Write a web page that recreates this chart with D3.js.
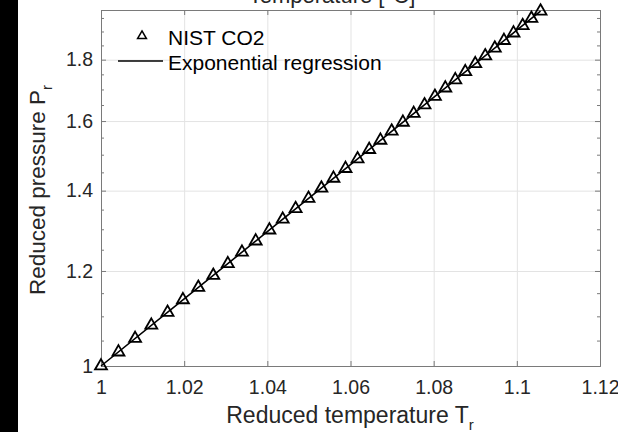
<!DOCTYPE html>
<html>
<head>
<meta charset="utf-8">
<script src="https://cdn.jsdelivr.net/npm/d3@7"></script>
<style>
  body { margin: 0; background: #fff; }
  text { font-family: "Liberation Sans", Arial, Helvetica, sans-serif; }
</style>
</head>
<body>
<div id="chart"></div>
<script>
// NIST CO2 points (reduced temperature / reduced pressure)
const nistTr = [1.0000, 1.0042, 1.0082, 1.0121, 1.0160, 1.0197, 1.0234, 1.0270, 1.0305, 1.0339,
  1.0372, 1.0405, 1.0437, 1.0468, 1.0499, 1.0530, 1.0559, 1.0588, 1.0617, 1.0645,
  1.0672, 1.0699, 1.0726, 1.0752, 1.0778, 1.0803, 1.0828, 1.0852, 1.0876, 1.0900,
  1.0924, 1.0947, 1.0969, 1.0992, 1.1014, 1.1035, 1.1057];
const nistPr = [1.0000, 1.0271, 1.0542, 1.0813, 1.1084, 1.1355, 1.1626, 1.1897, 1.2168, 1.2439,
  1.2710, 1.2981, 1.3252, 1.3523, 1.3794, 1.4065, 1.4336, 1.4607, 1.4878, 1.5149,
  1.5420, 1.5691, 1.5962, 1.6233, 1.6504, 1.6775, 1.7046, 1.7317, 1.7588, 1.7859,
  1.8130, 1.8401, 1.8672, 1.8943, 1.9214, 1.9485, 1.9756];

// exponential regression curve
const fitTr = [1.00, 1.02, 1.04, 1.06, 1.08, 1.10, 1.1057];
const fitPr = [1.0000, 1.1375, 1.2940, 1.4719, 1.6743, 1.9046, 1.9758];

const xTicks = [1, 1.02, 1.04, 1.06, 1.08, 1.1, 1.12];
const xTickLabels = ['1', '1.02', '1.04', '1.06', '1.08', '1.1', '1.12'];
const yTicks = [1, 1.2, 1.4, 1.6, 1.8];
const yTickLabels = ['1', '1.2', '1.4', '1.6', '1.8'];
const yMinorTicks = [1.05, 1.1, 1.15, 1.25, 1.3, 1.35, 1.45, 1.5, 1.55, 1.65, 1.7, 1.75, 1.85, 1.9, 1.95];

const W = 618, H = 432;
const margin = { top: 10, right: 18, bottom: 66, left: 101 };
const width = W - margin.left - margin.right;
const height = H - margin.top - margin.bottom;

const svg = d3.select('#chart').append('svg')
  .attr('width', W)
  .attr('height', H);

// black strip on the left edge
svg.append('rect').attr('x', 0).attr('y', 0).attr('width', 18).attr('height', H).attr('fill', '#000');

const g = svg.append('g').attr('transform', `translate(${margin.left},${margin.top})`);

const x = d3.scaleLinear().domain([1, 1.12]).range([0, width]);
const y = d3.scaleLog().domain([1, 1.98]).range([height, 0]);

const axisColor = '#7a7a7a';
const textColor = '#262626';

// grid
g.append('g')
  .attr('transform', `translate(0,${height})`)
  .call(d3.axisBottom(x).tickValues(xTicks).tickSize(-height).tickFormat(''))
  .call(s => s.select('.domain').remove())
  .selectAll('line').attr('stroke', '#e3e3e3');
g.append('g')
  .call(d3.axisLeft(y).tickValues(yTicks).tickSize(-width).tickFormat(''))
  .call(s => s.select('.domain').remove())
  .selectAll('line').attr('stroke', '#e3e3e3');

// minor y ticks, left and right
g.append('g')
  .call(d3.axisLeft(y).tickValues(yMinorTicks).tickSize(-3).tickFormat(''))
  .call(s => s.select('.domain').remove())
  .selectAll('line').attr('stroke', axisColor);
g.append('g')
  .attr('transform', `translate(${width},0)`)
  .call(d3.axisRight(y).tickValues(yMinorTicks).tickSize(-3).tickFormat(''))
  .call(s => s.select('.domain').remove())
  .selectAll('line').attr('stroke', axisColor);

// X axis (bottom)
const xAxis = g.append('g')
  .attr('transform', `translate(0,${height})`)
  .call(d3.axisBottom(x).tickValues(xTicks).tickSize(-5).tickPadding(14)
    .tickFormat((d, i) => xTickLabels[i]));

// top axis
const topAxis = g.append('g')
  .call(d3.axisTop(x).tickValues(xTicks).tickSize(-5).tickFormat(''));

// Y axis (left)
const yAxis = g.append('g')
  .call(d3.axisLeft(y).tickValues(yTicks).tickSize(-5).tickPadding(8)
    .tickFormat((d, i) => yTickLabels[i]));

// right axis
const rightAxis = g.append('g')
  .attr('transform', `translate(${width},0)`)
  .call(d3.axisRight(y).tickValues(yTicks).tickSize(-5).tickFormat(''));

[xAxis, topAxis, yAxis, rightAxis].forEach(a => {
  a.select('.domain').attr('stroke', axisColor);
  a.selectAll('line').attr('stroke', axisColor);
  a.selectAll('text').attr('fill', textColor).style('font-size', '19.5px')
    .style('font-family', '"Liberation Sans", Arial, sans-serif');
});

// regression line
g.append('path')
  .datum(fitTr.map((t, i) => ({ t: t, p: fitPr[i] })))
  .attr('fill', 'none')
  .attr('stroke', '#000')
  .attr('stroke-width', 1.6)
  .attr('d', d3.line().x(d => x(d.t)).y(d => y(d.p)));

// NIST markers
const tri = d3.symbol().type(d3.symbolTriangle).size(62);
g.append('g')
  .selectAll('path')
  .data(nistTr.map((t, i) => ({ t: t, p: nistPr[i] })))
  .enter().append('path')
  .attr('d', tri)
  .attr('transform', d => `translate(${x(d.t)},${y(d.p)})`)
  .attr('fill', 'none')
  .attr('stroke', '#000')
  .attr('stroke-width', 1.8);

// legend
const legend = svg.append('g');
legend.append('path')
  .attr('d', d3.symbol().type(d3.symbolTriangle).size(34))
  .attr('transform', 'translate(142,36)')
  .attr('fill', 'none').attr('stroke', '#000').attr('stroke-width', 1.5);
legend.append('text').attr('x', 168).attr('y', 45)
  .attr('fill', '#000').style('font-size', '21px').text('NIST CO2');
legend.append('line').attr('x1', 118).attr('x2', 163).attr('y1', 61).attr('y2', 61)
  .attr('stroke', '#000').attr('stroke-width', 1.6);
legend.append('text').attr('x', 168).attr('y', 70)
  .attr('fill', '#000').style('font-size', '21px').text('Exponential regression');

// axis labels
const xLabel = svg.append('text')
  .attr('x', 350).attr('y', 423)
  .attr('text-anchor', 'middle')
  .attr('fill', textColor)
  .style('font-size', '23px');
xLabel.append('tspan').text('Reduced temperature T');
xLabel.append('tspan').attr('dy', 7).style('font-size', '15px').text('r');

const yLabel = svg.append('text')
  .attr('transform', 'translate(45,190) rotate(-90)')
  .attr('text-anchor', 'middle')
  .attr('fill', textColor)
  .style('font-size', '22.5px');
yLabel.append('tspan').text('Reduced pressure P');
yLabel.append('tspan').attr('dy', 7).style('font-size', '15px').text('r');

// top label, mostly cut off by the frame (as in the source figure)
svg.append('text')
  .attr('x', 332).attr('y', 3)
  .attr('text-anchor', 'middle')
  .attr('fill', textColor)
  .style('font-size', '22px')
  .text('Temperature [°C]');
</script>
</body>
</html>
